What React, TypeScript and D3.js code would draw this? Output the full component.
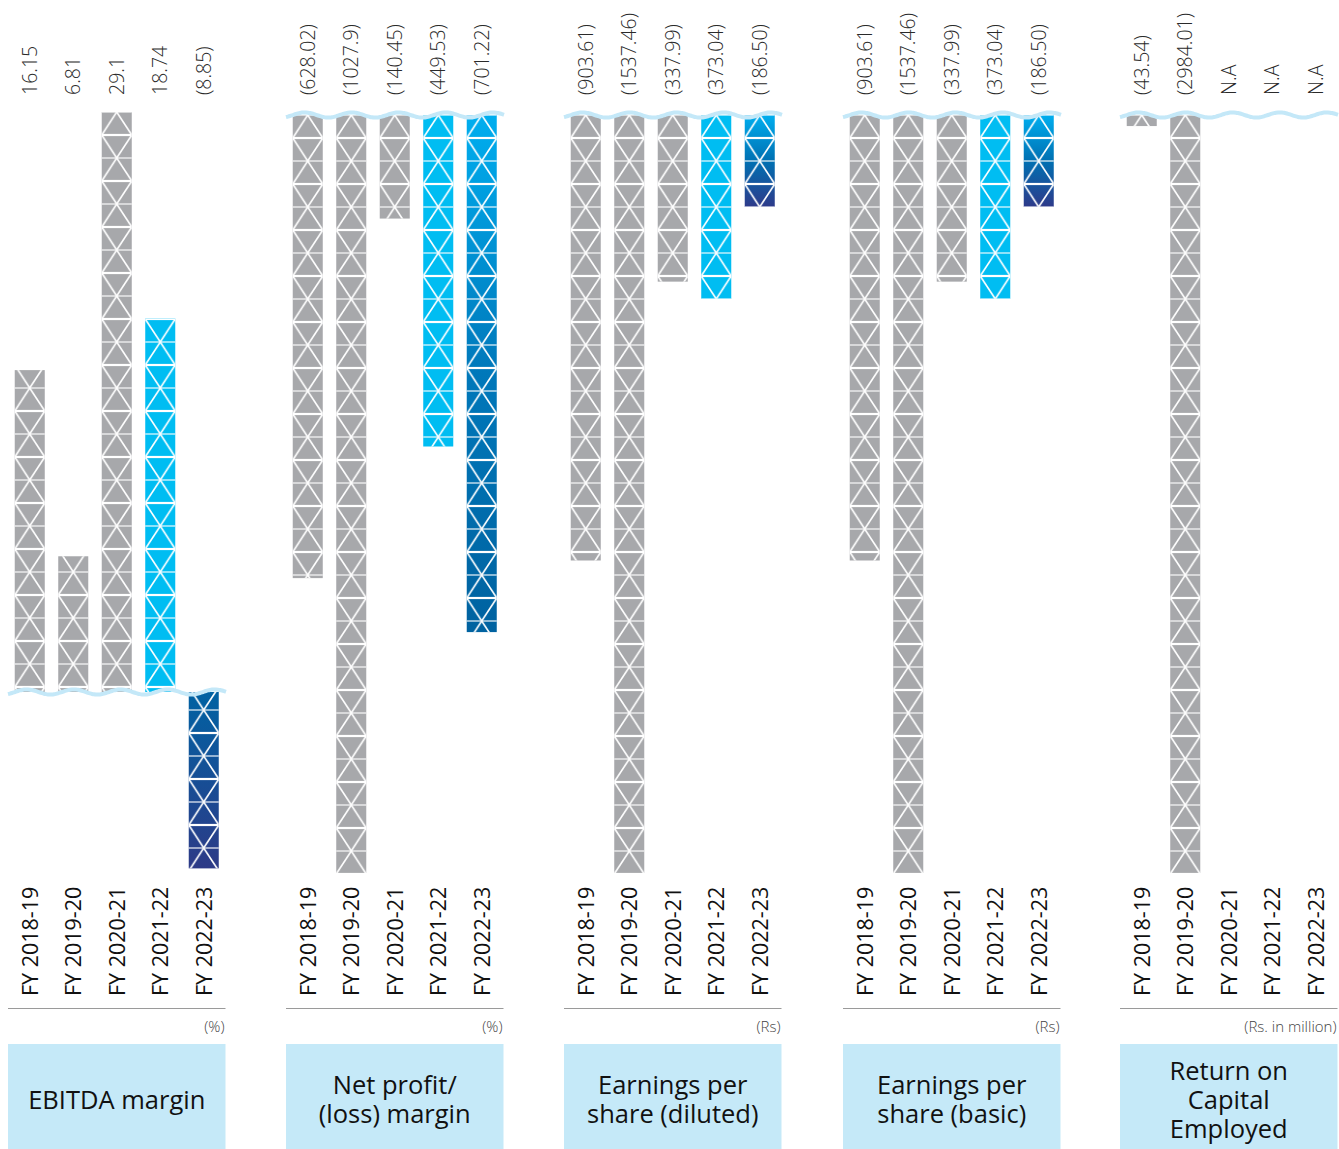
import * as d3 from "d3";

// categories shared by every panel
const years = ["FY 2018-19", "FY 2019-20", "FY 2020-21", "FY 2021-22", "FY 2022-23"];

// EBITDA margin (%)
const ebitdaMargin = [16.15, 6.81, 29.1, 18.74, -8.85];
const ebitdaLabels = ["16.15", "6.81", "29.1", "18.74", "(8.85)"];

// Net profit/(loss) margin (%)
const netMargin = [-628.02, -1027.9, -140.45, -449.53, -701.22];
const netLabels = ["(628.02)", "(1027.9)", "(140.45)", "(449.53)", "(701.22)"];

// EPS diluted (Rs)
const epsDiluted = [-903.61, -1537.46, -337.99, -373.04, -186.5];
const epsDilutedLabels = ["(903.61)", "(1537.46)", "(337.99)", "(373.04)", "(186.50)"];

// EPS basic (Rs)
const epsBasic = [-903.61, -1537.46, -337.99, -373.04, -186.5];
const epsBasicLabels = ["(903.61)", "(1537.46)", "(337.99)", "(373.04)", "(186.50)"];

// ROCE (Rs. in million)
const roce: (number | null)[] = [-43.54, -2984.01, null, null, null];
const roceLabels = ["(43.54)", "(2984.01)", "N.A", "N.A", "N.A"];

const GRAY = "#a7a8ab";
const CYAN = "#00bdf2";
const WAVE = "#c4e8f8";
const FONT = "'Open Sans', 'Noto Sans', sans-serif";

type Panel = {
  key: string;
  x0: number;
  values: (number | null)[];
  labels: string[];
  unit: string;
  title: string[];
  grad: string[];
  positive?: boolean;
};

const panels: Panel[] = [
  { key: "ebitda", x0: 8, values: ebitdaMargin, labels: ebitdaLabels, unit: "(%)", title: ["EBITDA margin"], grad: ["#0062a3", "#2d3a87"], positive: true },
  { key: "net", x0: 286, values: netMargin, labels: netLabels, unit: "(%)", title: ["Net profit/", "(loss) margin"], grad: ["#00aeef", "#0078ba", "#0062a0"] },
  { key: "epsd", x0: 564, values: epsDiluted, labels: epsDilutedLabels, unit: "(Rs)", title: ["Earnings per", "share (diluted)"], grad: ["#00aeef", "#0070b2", "#2e3a8a"] },
  { key: "epsb", x0: 843, values: epsBasic, labels: epsBasicLabels, unit: "(Rs)", title: ["Earnings per", "share (basic)"], grad: ["#00aeef", "#0070b2", "#2e3a8a"] },
  { key: "roce", x0: 1120, values: roce, labels: roceLabels, unit: "(Rs. in million)", title: ["Return on", "Capital", "Employed"], grad: ["#00aeef", "#2e3a8a"] },
];

const PW = 217.5;
const TOP = 115;
const BOTTOM = 873;
const CELL = 23;

function wavePath(x0: number, y: number) {
  const pts = d3.range(x0, x0 + PW + 1, 2).map((x) => [x, y + 2.6 * Math.sin(((x - x0) / 47) * 2 * Math.PI + 2.2)] as [number, number]);
  return d3.line().curve(d3.curveBasis)(pts) || "";
}

function PanelChart({ p }: { p: Panel }) {
  const x = d3.scaleBand<string>().domain(years).range([p.x0, p.x0 + PW]).paddingInner(0.31).paddingOuter(0.155);
  const bw = x.bandwidth();
  let y: d3.ScaleLinear<number, number>;
  let anchor: number;
  if (p.positive) {
    const max = d3.max(p.values, (v) => v ?? 0) as number;
    y = d3.scaleLinear().domain([0, max]).range([692, 112]);
    anchor = 112;
  } else {
    const min = d3.min(p.values, (v) => v ?? 0) as number;
    y = d3.scaleLinear().domain([0, min]).range([TOP, BOTTOM]);
    anchor = TOP;
  }
  const zeroY = y(0);

  return (
    <g>
      <defs>
        <linearGradient id={`grad-${p.key}`} x1="0" y1="0" x2="0" y2="1">
          {p.grad.map((c, i) => (
            <stop key={i} offset={i / (p.grad.length - 1)} stopColor={c} />
          ))}
        </linearGradient>
        {years.map((yr, i) => (
          <pattern
            key={yr}
            id={`pat-${p.key}-${i}`}
            patternUnits="userSpaceOnUse"
            x={x(yr)}
            y={anchor}
            width={bw}
            height={CELL * 2}
          >
            <g stroke="#fff" strokeWidth={1.6} fill="none">
              <line x1={0} x2={bw} y1={0} y2={0} strokeOpacity={0.7} />
              <line x1={0} x2={bw} y1={CELL * 2} y2={CELL * 2} strokeOpacity={0.7} />
              <line x1={0} x2={bw} y1={CELL} y2={CELL} strokeWidth={2.2} />
              <line x1={bw / 2} y1={0} x2={0} y2={CELL} />
              <line x1={bw / 2} y1={0} x2={bw} y2={CELL} />
              <line x1={0} y1={CELL} x2={bw / 2} y2={CELL * 2} />
              <line x1={bw} y1={CELL} x2={bw / 2} y2={CELL * 2} />
            </g>
          </pattern>
        ))}
      </defs>

      {p.values.map((v, i) => {
        if (v === null) return null;
        const bx = x(years[i]) as number;
        const y1 = Math.min(zeroY, y(v));
        const h = Math.abs(y(v) - zeroY);
        const fill = i === 4 ? `url(#grad-${p.key})` : i === 3 ? CYAN : GRAY;
        return (
          <g key={i}>
            <rect x={bx} y={y1} width={bw} height={h} fill={fill} />
            <rect x={bx} y={y1} width={bw} height={h} fill={`url(#pat-${p.key}-${i})`} />
          </g>
        );
      })}

      <path d={wavePath(p.x0, zeroY)} fill="none" stroke={WAVE} strokeWidth={4} />

      {p.labels.map((l, i) => {
        const cx = (x(years[i]) as number) + bw / 2;
        return (
          <text
            key={`v${i}`}
            transform={`translate(${cx},95) rotate(-90)`}
            dy="0.36em"
            fontSize={19.5}
            fontWeight={300}
            fill="#2a2a2a"
            fontFamily={FONT}
          >
            {l}
          </text>
        );
      })}

      {years.map((yr) => {
        const cx = (x(yr) as number) + bw / 2;
        return (
          <text
            key={`c${yr}`}
            transform={`translate(${cx},996) rotate(-90)`}
            dy="0.36em"
            fontSize={21.5}
            fill="#111"
            fontFamily={FONT}
          >
            {yr}
          </text>
        );
      })}

      <line x1={p.x0} x2={p.x0 + PW} y1={1008.5} y2={1008.5} stroke="#9a9a9a" strokeWidth={1} />
      <text x={p.x0 + PW - 1} y={1032} textAnchor="end" fontSize={15} fill="#444" fontWeight={300} fontFamily={FONT}>
        {p.unit}
      </text>

      <rect x={p.x0} y={1044} width={PW} height={105} fill="#c5e9f8" />
      {p.title.map((t, i) => {
        const n = p.title.length;
        const cy = 1100 + (i - (n - 1) / 2) * 29;
        return (
          <text
            key={`t${i}`}
            x={p.x0 + PW / 2}
            y={cy}
            dy="0.35em"
            textAnchor="middle"
            fontSize={25.5}
            fill="#111"
            fontFamily={FONT}
          >
            {t}
          </text>
        );
      })}
    </g>
  );
}

export default function App() {
  return (
    <svg
      width={1339}
      height={1149}
      style={{ position: "absolute", left: 0, top: 0, background: "#fff" }}
    >
      {panels.map((p) => (
        <PanelChart key={p.key} p={p} />
      ))}
    </svg>
  );
}
